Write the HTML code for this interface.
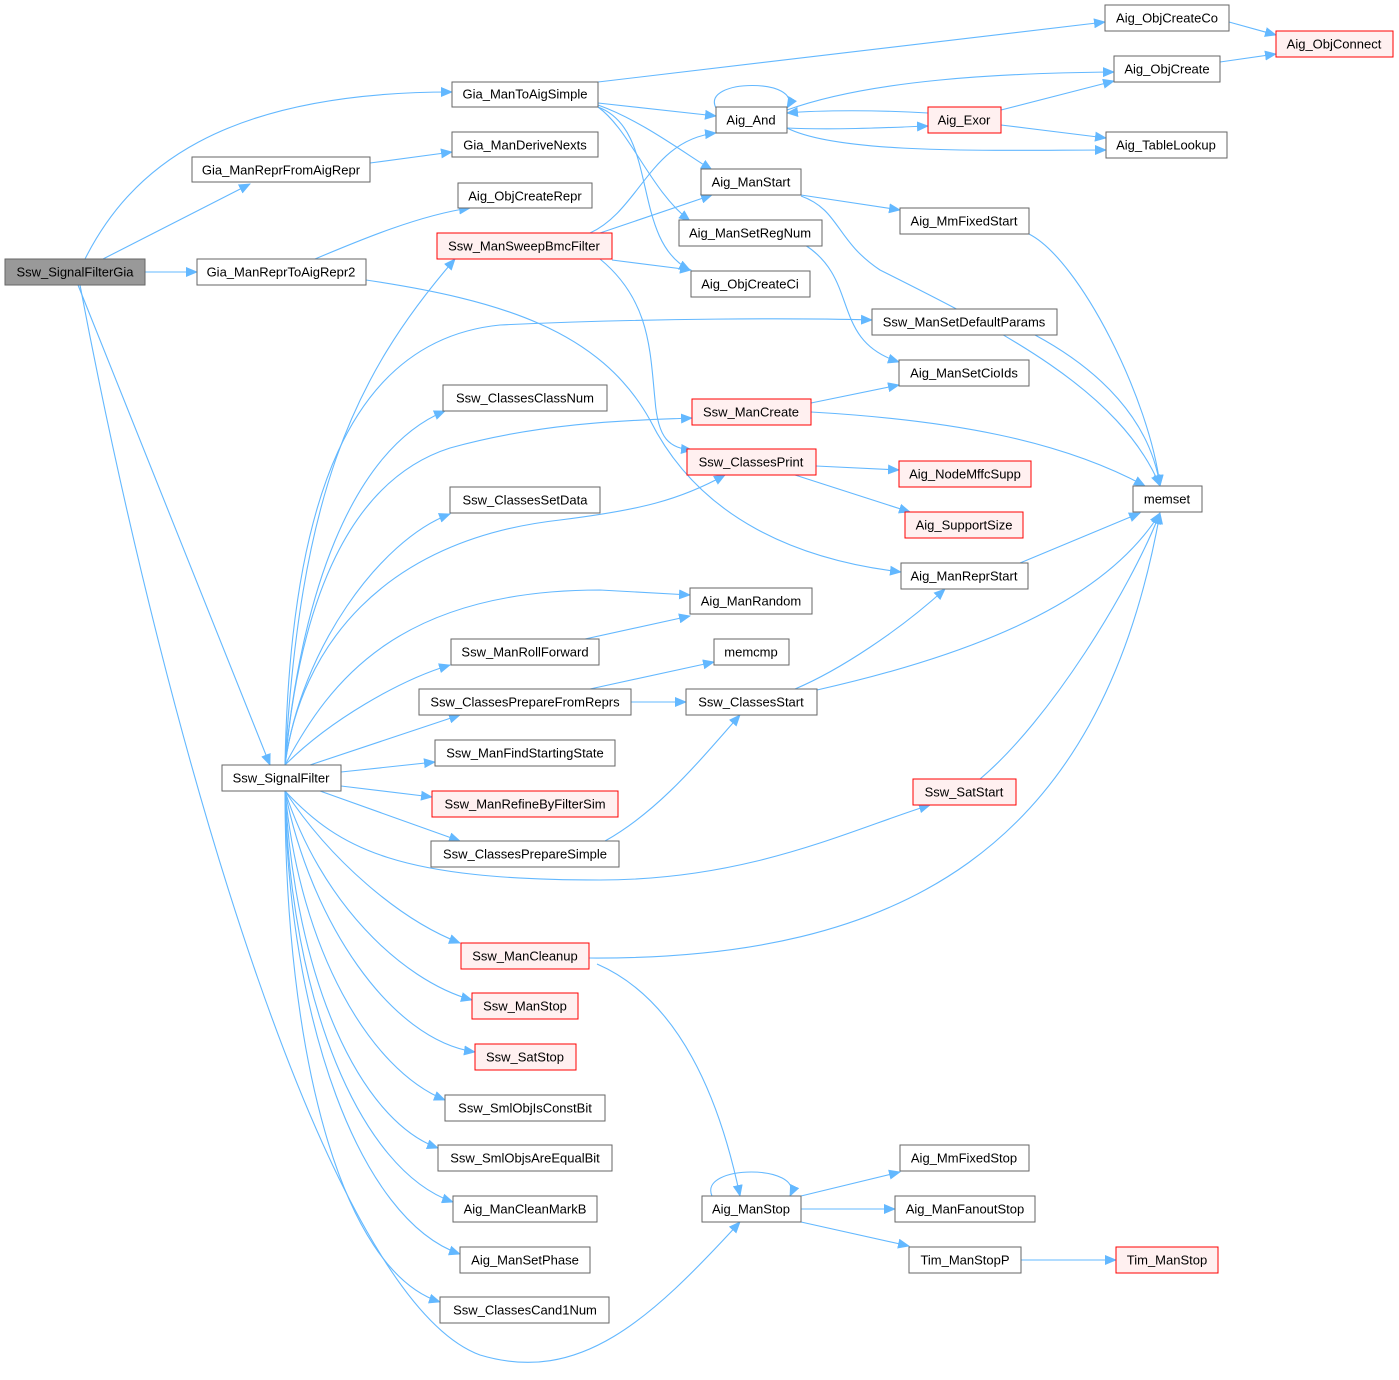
<!DOCTYPE html>
<html><head><meta charset="utf-8"><style>
html,body{margin:0;padding:0;background:#fff;}
svg text{font-family:"Liberation Sans",Arial,sans-serif;font-size:13px;fill:#000;text-anchor:middle;dominant-baseline:central;}
.n{fill:#fff;stroke:#666;stroke-width:1;}
.r{fill:#fff0f0;stroke:#f00;stroke-width:1;}
.g{fill:#999;stroke:#666;stroke-width:1;}
.e{fill:none;stroke:#63b8ff;stroke-width:1.1;}
</style></head><body>
<svg width="1399" height="1375" viewBox="0 0 1399 1375" xmlns="http://www.w3.org/2000/svg">
<defs><marker id="a" markerWidth="12" markerHeight="10" refX="11" refY="5" orient="auto" markerUnits="userSpaceOnUse"><path d="M0,0 L12,5 L0,10 z" fill="#63b8ff"/></marker></defs>
<g class="edges" marker-end="url(#a)">
<path class="e" marker-end="url(#a)" d="M85,259 C130,170 220,92 452,92"/>
<path class="e" marker-end="url(#a)" d="M103,259 L250,184"/>
<path class="e" marker-end="url(#a)" d="M145,272 L197,272"/>
<path class="e" marker-end="url(#a)" d="M78,285 L270,765"/>
<path class="e" marker-end="url(#a)" d="M80,285 C170,760 330,1300 480,1355 C580,1385 650,1320 740,1222"/>
<path class="e" marker-end="url(#a)" d="M598,82 L1105,22"/>
<path class="e" marker-end="url(#a)" d="M598,103 L716,116"/>
<path class="e" marker-end="url(#a)" d="M598,105 C640,120 680,150 712,170"/>
<path class="e" marker-end="url(#a)" d="M598,107 C630,130 650,190 690,221"/>
<path class="e" marker-end="url(#a)" d="M598,107 C660,130 630,240 690,270"/>
<path class="e" marker-end="url(#a)" d="M370,163 L452,152"/>
<path class="e" marker-end="url(#a)" d="M315,259 C360,240 420,215 470,208"/>
<path class="e" marker-end="url(#a)" d="M366,280 C500,300 600,330 650,420 C700,520 800,560 901,572"/>
<path class="e" marker-end="url(#a)" d="M590,233 C640,210 650,140 716,133"/>
<path class="e" marker-end="url(#a)" d="M600,233 L712,195"/>
<path class="e" marker-end="url(#a)" d="M612,260 L691,270"/>
<path class="e" marker-end="url(#a)" d="M600,259 C650,300 650,350 655,400 C658,440 670,448 692,450"/>
<path class="e" marker-end="url(#a)" d="M716,108 C700,78 805,78 787,108"/>
<path class="e" marker-end="url(#a)" d="M787,128 C830,130 880,128 928,126"/>
<path class="e" marker-end="url(#a)" d="M787,110 C870,80 1000,73 1114,72"/>
<path class="e" marker-end="url(#a)" d="M787,128 C840,155 1000,150 1106,150"/>
<path class="e" marker-end="url(#a)" d="M928,113 C880,110 820,110 787,113"/>
<path class="e" marker-end="url(#a)" d="M1001,110 L1114,81"/>
<path class="e" marker-end="url(#a)" d="M1001,125 L1106,138"/>
<path class="e" marker-end="url(#a)" d="M1229,22 L1276,35"/>
<path class="e" marker-end="url(#a)" d="M1220,62 L1276,54"/>
<path class="e" marker-end="url(#a)" d="M801,195 L900,210"/>
<path class="e" marker-end="url(#a)" d="M801,196 C840,210 835,240 880,270 C1000,330 1120,390 1160,486"/>
<path class="e" marker-end="url(#a)" d="M1029,234 C1080,260 1150,400 1160,486"/>
<path class="e" marker-end="url(#a)" d="M805,245 C860,280 830,340 899,362"/>
<path class="e" marker-end="url(#a)" d="M1035,335 C1100,370 1150,420 1160,486"/>
<path class="e" marker-end="url(#a)" d="M811,403 L899,385"/>
<path class="e" marker-end="url(#a)" d="M811,412 C950,420 1060,440 1145,486"/>
<path class="e" marker-end="url(#a)" d="M816,466 L899,470"/>
<path class="e" marker-end="url(#a)" d="M795,475 L910,512"/>
<path class="e" marker-end="url(#a)" d="M1020,563 L1140,513"/>
<path class="e" marker-end="url(#a)" d="M795,689 C840,670 900,630 945,589"/>
<path class="e" marker-end="url(#a)" d="M817,690 C950,660 1100,610 1160,513"/>
<path class="e" marker-end="url(#a)" d="M980,779 C1050,720 1130,590 1160,513"/>
<path class="e" marker-end="url(#a)" d="M589,958 C900,960 1100,850 1160,513"/>
<path class="e" marker-end="url(#a)" d="M597,964 C680,1000 720,1100 740,1196"/>
<path class="e" marker-end="url(#a)" d="M585,639 L690,616"/>
<path class="e" marker-end="url(#a)" d="M590,689 L714,662"/>
<path class="e" marker-end="url(#a)" d="M631,702 L686,702"/>
<path class="e" marker-end="url(#a)" d="M605,841 C660,810 700,760 740,715"/>
<path class="e" marker-end="url(#a)" d="M712,1196 C698,1164 805,1164 790,1196"/>
<path class="e" marker-end="url(#a)" d="M801,1196 L900,1172"/>
<path class="e" marker-end="url(#a)" d="M801,1209 L895,1209"/>
<path class="e" marker-end="url(#a)" d="M801,1222 L909,1246"/>
<path class="e" marker-end="url(#a)" d="M1021,1260 L1116,1260"/>
<path class="e" marker-end="url(#a)" d="M285,765 C300,500 350,380 455,259"/>
<path class="e" marker-end="url(#a)" d="M285,765 C290,500 350,340 500,325 C650,318 800,318 872,320"/>
<path class="e" marker-end="url(#a)" d="M285,765 C300,600 350,450 445,411"/>
<path class="e" marker-end="url(#a)" d="M285,765 C300,600 350,480 450,448 C550,420 650,420 692,418"/>
<path class="e" marker-end="url(#a)" d="M285,765 C300,650 380,540 450,514"/>
<path class="e" marker-end="url(#a)" d="M285,765 C300,650 380,540 560,520 C640,510 680,500 725,475"/>
<path class="e" marker-end="url(#a)" d="M285,765 C330,680 400,590 600,590 L690,595"/>
<path class="e" marker-end="url(#a)" d="M285,765 C330,720 400,680 450,665"/>
<path class="e" marker-end="url(#a)" d="M310,765 L460,715"/>
<path class="e" marker-end="url(#a)" d="M341,772 L435,762"/>
<path class="e" marker-end="url(#a)" d="M341,786 L432,797"/>
<path class="e" marker-end="url(#a)" d="M320,791 L460,841"/>
<path class="e" marker-end="url(#a)" d="M285,791 C340,850 400,880 600,880 C750,880 850,830 930,805"/>
<path class="e" marker-end="url(#a)" d="M285,791 C330,860 400,920 460,943"/>
<path class="e" marker-end="url(#a)" d="M285,791 C320,900 400,980 472,1000"/>
<path class="e" marker-end="url(#a)" d="M285,791 C310,920 390,1040 475,1052"/>
<path class="e" marker-end="url(#a)" d="M285,791 C300,950 370,1070 445,1100"/>
<path class="e" marker-end="url(#a)" d="M285,791 C295,980 360,1120 438,1148"/>
<path class="e" marker-end="url(#a)" d="M285,791 C290,1000 360,1170 453,1202"/>
<path class="e" marker-end="url(#a)" d="M285,791 C288,1020 360,1220 460,1254"/>
<path class="e" marker-end="url(#a)" d="M285,791 C285,1050 340,1270 440,1302"/>
</g>
<g>
<rect class="g" x="5" y="259" width="140" height="26"/><text x="75" y="272">Ssw_SignalFilterGia</text>
<rect class="n" x="452" y="82" width="146" height="25"/><text x="525" y="94">Gia_ManToAigSimple</text>
<rect class="n" x="192" y="157" width="178" height="25"/><text x="281" y="170">Gia_ManReprFromAigRepr</text>
<rect class="n" x="452" y="132" width="146" height="25"/><text x="525" y="145">Gia_ManDeriveNexts</text>
<rect class="n" x="458" y="183" width="134" height="25"/><text x="525" y="196">Aig_ObjCreateRepr</text>
<rect class="n" x="197" y="259" width="169" height="26"/><text x="281" y="272">Gia_ManReprToAigRepr2</text>
<rect class="r" x="437" y="233" width="175" height="26"/><text x="524" y="246">Ssw_ManSweepBmcFilter</text>
<rect class="n" x="1105" y="5" width="124" height="26"/><text x="1167" y="18">Aig_ObjCreateCo</text>
<rect class="r" x="1276" y="31" width="117" height="26"/><text x="1334" y="44">Aig_ObjConnect</text>
<rect class="n" x="1114" y="56" width="106" height="26"/><text x="1167" y="69">Aig_ObjCreate</text>
<rect class="n" x="716" y="107" width="71" height="26"/><text x="751" y="120">Aig_And</text>
<rect class="r" x="928" y="107" width="73" height="26"/><text x="964" y="120">Aig_Exor</text>
<rect class="n" x="1106" y="132" width="121" height="26"/><text x="1166" y="145">Aig_TableLookup</text>
<rect class="n" x="701" y="169" width="100" height="26"/><text x="751" y="182">Aig_ManStart</text>
<rect class="n" x="900" y="208" width="129" height="26"/><text x="964" y="221">Aig_MmFixedStart</text>
<rect class="n" x="679" y="220" width="143" height="26"/><text x="750" y="233">Aig_ManSetRegNum</text>
<rect class="n" x="691" y="271" width="119" height="26"/><text x="750" y="284">Aig_ObjCreateCi</text>
<rect class="n" x="872" y="309" width="185" height="26"/><text x="964" y="322">Ssw_ManSetDefaultParams</text>
<rect class="n" x="899" y="360" width="130" height="26"/><text x="964" y="373">Aig_ManSetCioIds</text>
<rect class="n" x="443" y="385" width="164" height="26"/><text x="525" y="398">Ssw_ClassesClassNum</text>
<rect class="r" x="692" y="399" width="119" height="26"/><text x="751" y="412">Ssw_ManCreate</text>
<rect class="r" x="687" y="449" width="129" height="26"/><text x="751" y="462">Ssw_ClassesPrint</text>
<rect class="r" x="899" y="461" width="132" height="26"/><text x="965" y="474">Aig_NodeMffcSupp</text>
<rect class="n" x="1133" y="486" width="69" height="26"/><text x="1167" y="499">memset</text>
<rect class="n" x="450" y="487" width="150" height="26"/><text x="525" y="500">Ssw_ClassesSetData</text>
<rect class="r" x="905" y="512" width="118" height="26"/><text x="964" y="525">Aig_SupportSize</text>
<rect class="n" x="901" y="563" width="127" height="26"/><text x="964" y="576">Aig_ManReprStart</text>
<rect class="n" x="690" y="588" width="122" height="26"/><text x="751" y="601">Aig_ManRandom</text>
<rect class="n" x="451" y="639" width="148" height="26"/><text x="525" y="652">Ssw_ManRollForward</text>
<rect class="n" x="714" y="639" width="75" height="26"/><text x="751" y="652">memcmp</text>
<rect class="n" x="419" y="689" width="212" height="26"/><text x="525" y="702">Ssw_ClassesPrepareFromReprs</text>
<rect class="n" x="686" y="689" width="131" height="26"/><text x="751" y="702">Ssw_ClassesStart</text>
<rect class="n" x="435" y="740" width="180" height="26"/><text x="525" y="753">Ssw_ManFindStartingState</text>
<rect class="n" x="222" y="765" width="119" height="26"/><text x="281" y="778">Ssw_SignalFilter</text>
<rect class="r" x="432" y="791" width="186" height="26"/><text x="525" y="804">Ssw_ManRefineByFilterSim</text>
<rect class="r" x="913" y="779" width="103" height="26"/><text x="964" y="792">Ssw_SatStart</text>
<rect class="n" x="431" y="841" width="188" height="26"/><text x="525" y="854">Ssw_ClassesPrepareSimple</text>
<rect class="r" x="461" y="943" width="128" height="26"/><text x="525" y="956">Ssw_ManCleanup</text>
<rect class="r" x="472" y="993" width="106" height="26"/><text x="525" y="1006">Ssw_ManStop</text>
<rect class="r" x="475" y="1044" width="101" height="26"/><text x="525" y="1057">Ssw_SatStop</text>
<rect class="n" x="445" y="1095" width="160" height="26"/><text x="525" y="1108">Ssw_SmlObjIsConstBit</text>
<rect class="n" x="438" y="1145" width="174" height="26"/><text x="525" y="1158">Ssw_SmlObjsAreEqualBit</text>
<rect class="n" x="453" y="1196" width="144" height="26"/><text x="525" y="1209">Aig_ManCleanMarkB</text>
<rect class="n" x="460" y="1247" width="130" height="26"/><text x="525" y="1260">Aig_ManSetPhase</text>
<rect class="n" x="440" y="1297" width="169" height="26"/><text x="525" y="1310">Ssw_ClassesCand1Num</text>
<rect class="n" x="900" y="1145" width="129" height="26"/><text x="964" y="1158">Aig_MmFixedStop</text>
<rect class="n" x="702" y="1196" width="99" height="26"/><text x="751" y="1209">Aig_ManStop</text>
<rect class="n" x="895" y="1196" width="140" height="26"/><text x="965" y="1209">Aig_ManFanoutStop</text>
<rect class="n" x="909" y="1247" width="112" height="26"/><text x="965" y="1260">Tim_ManStopP</text>
<rect class="r" x="1116" y="1247" width="102" height="26"/><text x="1167" y="1260">Tim_ManStop</text>
</g>
</svg>
</body></html>
